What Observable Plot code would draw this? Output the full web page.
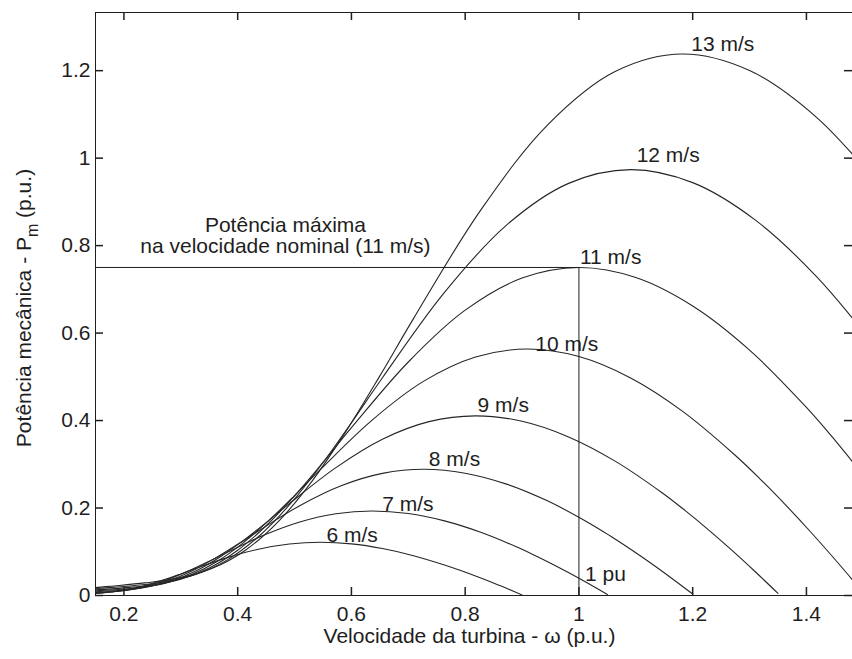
<!DOCTYPE html>
<html>
<head>
<meta charset="utf-8">
<script src="https://cdn.jsdelivr.net/npm/d3@7"></script>
<script src="https://cdn.jsdelivr.net/npm/@observablehq/plot@0.6"></script>
<style>
  html, body { margin: 0; padding: 0; background: #fff; overflow: hidden; }
  #chart svg { display: block; }
</style>
</head>
<body>
<div id="chart"></div>
<script>
// ---- Data: [omega (p.u.), power (p.u.)] ----
const speeds = [6, 7, 8, 9, 10, 11, 12, 13];
const curve6 = [[0.150,0.0048],[0.1636,0.0061],[0.1909,0.0102],[0.2182,0.0168],[0.2455,0.0259],[0.2727,0.0370],[0.300,0.0494],[0.3273,0.0622],[0.3818,0.0866],[0.4364,0.1059],[0.4909,0.1178],[0.5455,0.1217],[0.600,0.1180],[0.6545,0.1074],[0.7091,0.0911],[0.7636,0.0698],[0.7909,0.0576],[0.8182,0.0446],[0.8455,0.0309],[0.8727,0.0164],[0.900,0.0014]];
const curve7 = [[0.150,0.0056],[0.1591,0.0062],[0.1909,0.0096],[0.2227,0.0162],[0.2545,0.0267],[0.2864,0.0411],[0.3182,0.0588],[0.350,0.0784],[0.3818,0.0988],[0.4455,0.1376],[0.5091,0.1681],[0.5727,0.1870],[0.6364,0.1933],[0.700,0.1874],[0.7636,0.1706],[0.8273,0.1446],[0.8909,0.1108],[0.9227,0.0915],[0.9545,0.0709],[0.9864,0.0490],[1.0182,0.0261],[1.050,0.0022]];
const curve8 = [[0.150,0.0070],[0.1818,0.0093],[0.2182,0.0144],[0.2545,0.0241],[0.2909,0.0398],[0.3273,0.0614],[0.3636,0.0877],[0.400,0.1170],[0.4364,0.1475],[0.5091,0.2054],[0.5818,0.2509],[0.6545,0.2792],[0.7273,0.2885],[0.800,0.2797],[0.8727,0.2547],[0.9455,0.2158],[1.0182,0.1654],[1.0545,0.1366],[1.0909,0.1058],[1.1273,0.0732],[1.1636,0.0389],[1.200,0.0033]];
const curve9 = [[0.150,0.0087],[0.1636,0.0096],[0.2045,0.0132],[0.2455,0.0205],[0.2864,0.0344],[0.3273,0.0567],[0.3682,0.0874],[0.4091,0.1249],[0.450,0.1667],[0.4909,0.2101],[0.5727,0.2924],[0.6545,0.3573],[0.7364,0.3975],[0.8182,0.4108],[0.900,0.3983],[0.9818,0.3626],[1.0636,0.3073],[1.1455,0.2355],[1.1864,0.1945],[1.2273,0.1507],[1.2682,0.1042],[1.3091,0.0554],[1.350,0.0047]];
const curve10 = [[0.150,0.0107],[0.1818,0.0131],[0.2273,0.0181],[0.2727,0.0281],[0.3182,0.0472],[0.3636,0.0778],[0.4091,0.1199],[0.4545,0.1713],[0.500,0.2286],[0.5455,0.2882],[0.6364,0.4011],[0.7273,0.4901],[0.8182,0.5453],[0.9091,0.5635],[1.000,0.5463],[1.0909,0.4974],[1.1818,0.4215],[1.2727,0.3230],[1.3182,0.2669],[1.3636,0.2067],[1.4091,0.1429],[1.4545,0.0760],[1.500,0.0065]];
const curve11 = [[0.150,0.0129],[0.200,0.0175],[0.250,0.0241],[0.300,0.0374],[0.350,0.0628],[0.400,0.1035],[0.450,0.1595],[0.500,0.2280],[0.550,0.3043],[0.600,0.3836],[0.700,0.5339],[0.800,0.6524],[0.900,0.7258],[1.000,0.7500],[1.100,0.7271],[1.200,0.6620],[1.300,0.5611],[1.400,0.4300],[1.450,0.3552],[1.500,0.2751]];
const curve12 = [[0.150,0.0154],[0.1636,0.0168],[0.2182,0.0227],[0.2727,0.0313],[0.3273,0.0485],[0.3818,0.0815],[0.4364,0.1344],[0.4909,0.2071],[0.5455,0.2960],[0.600,0.3950],[0.6545,0.4980],[0.7636,0.6931],[0.8727,0.8469],[0.9818,0.9423],[1.0909,0.9737],[1.200,0.9440],[1.3091,0.8595],[1.4182,0.7284],[1.5273,0.5582]];
const curve13 = [[0.150,0.0180],[0.1773,0.0213],[0.2364,0.0288],[0.2955,0.0397],[0.3545,0.0617],[0.4136,0.1036],[0.4727,0.1708],[0.5318,0.2633],[0.5909,0.3763],[0.650,0.5022],[0.7091,0.6331],[0.8273,0.8812],[0.9455,1.0768],[1.0636,1.1980],[1.1818,1.2380],[1.300,1.2002],[1.4182,1.0928],[1.5364,0.9261]];
const curves = [curve6, curve7, curve8, curve9, curve10, curve11, curve12, curve13];

const xTicks = [0.2, 0.4, 0.6, 0.8, 1, 1.2, 1.4];
const yTicks = [0, 0.2, 0.4, 0.6, 0.8, 1, 1.2];
const xDomain = [0.15, 1.481];
const yDomain = [0, 1.333];

const nominalOmega = 1;      // 1 pu
const nominalPower = 0.75;   // max power at 11 m/s
const annotationOmega = 0.484;
const annotationLines = ["Potência máxima", "na velocidade nominal (11 m/s)"];
const puLabel = "1 pu";
const xLabel = "Velocidade da turbina - ω (p.u.)";
const yLabelMain = "Potência mecânica - P";
const yLabelSub = "m";
const yLabelTail = " (p.u.)";

// ---- Tables built from the arrays ----
const rows = speeds.flatMap((v, i) => curves[i].map(([omega, power]) => ({speed: v, omega, power})));
const peaks = speeds.map((v, i) => {
  const p = d3.greatest(curves[i], d => d[1]);
  return {speed: v, omega: p[0], power: p[1], label: `${v} m/s`};
});

// label offsets (pixels) relative to each curve's peak
const labelDx = [6, 10, 5, 2, 8, 1, 6, 9];
const labelDy = [-7, -6.5, -10, -11, -5, -10.5, -14.5, -9.5];

const ink = "#1e1e1e";
const font = "'Liberation Sans', Arial, Helvetica, sans-serif";
const fs = 21;

// layout
const W = 852, H = 659;
const mL = 95, mR = 0, mT = 12, mB = 64;
const frameW = W - mL - mR, frameH = H - mT - mB;
const TL = 8; // inward tick length (px)

const plot = Plot.plot({
  width: W,
  height: H,
  marginLeft: mL,
  marginRight: mR,
  marginTop: mT,
  marginBottom: mB,
  style: {fontFamily: font, fontSize: fs + "px", color: ink, background: "#fff", overflow: "visible"},
  x: {domain: xDomain},
  y: {domain: yDomain},
  marks: [
    // frame (left, top, bottom)
    Plot.ruleX([xDomain[0]], {stroke: ink, strokeWidth: 1}),
    Plot.ruleY([yDomain[1]], {stroke: ink, strokeWidth: 1}),
    Plot.ruleY([yDomain[0]], {stroke: ink, strokeWidth: 1}),
    // power curves
    Plot.line(rows, {x: "omega", y: "power", z: "speed", curve: "catmull-rom", stroke: "#262626", strokeWidth: 1.1, clip: true}),
    // nominal point guides
    Plot.ruleY([nominalPower], {x1: xDomain[0], x2: nominalOmega, stroke: ink, strokeWidth: 1}),
    Plot.ruleX([nominalOmega], {y1: 0, y2: nominalPower, stroke: ink, strokeWidth: 1}),
    // tick labels
    Plot.axisX(xTicks, {anchor: "bottom", tickSize: 0, tickPadding: 11, tickFormat: d => String(d), label: null, fontSize: fs, fill: ink}),
    Plot.axisY(yTicks, {anchor: "left", tickSize: 0, tickPadding: 5, tickFormat: d => String(d), label: null, fontSize: fs, fill: ink}),
    // curve labels
    ...peaks.map((p, i) => Plot.text([p], {
      x: "omega", y: "power", text: "label", textAnchor: "start", lineAnchor: "middle",
      dx: labelDx[i], dy: labelDy[i], fontSize: fs, fill: ink
    })),
    // annotation
    Plot.text([annotationLines[0]], {x: annotationOmega, y: nominalPower, text: d => d, dy: -42, lineAnchor: "middle", fontSize: fs, fill: ink}),
    Plot.text([annotationLines[1]], {x: annotationOmega, y: nominalPower, text: d => d, dy: -21, lineAnchor: "middle", fontSize: fs, fill: ink}),
    Plot.text([puLabel], {x: nominalOmega, y: 0, text: d => d, textAnchor: "start", lineAnchor: "middle", dx: 6, dy: -21, fontSize: fs, fill: ink}),
    // axis titles
    Plot.text([xLabel], {frameAnchor: "bottom", text: d => d, textAnchor: "middle", dx: -4.5, dy: 41, lineAnchor: "middle", fontSize: fs, fill: ink}),
    Plot.text([yLabelMain + yLabelSub + yLabelTail], {frameAnchor: "left", text: d => d, textAnchor: "middle", rotate: -90, dx: -71, dy: 4, lineAnchor: "middle", fontSize: fs, fill: ink}),
    // inward ticks on all four sides (insets trim full-span rules down to short ticks)
    Plot.ruleX(xTicks, {x: d => d, y1: yDomain[1], y2: yDomain[0], insetTop: frameH - TL, stroke: ink, strokeWidth: 1.5}),
    Plot.ruleX(xTicks, {x: d => d, y1: yDomain[1], y2: yDomain[0], insetBottom: frameH - TL, stroke: ink, strokeWidth: 1.5}),
    Plot.ruleY(yTicks, {y: d => d, x1: xDomain[0], x2: xDomain[1], insetRight: frameW - TL, stroke: ink, strokeWidth: 1.5}),
    Plot.ruleY(yTicks, {y: d => d, x1: xDomain[0], x2: xDomain[1], insetLeft: frameW - TL, stroke: ink, strokeWidth: 1.5})
  ]
});

// give the y title its subscript "m"
plot.querySelectorAll("text").forEach(t => {
  if (t.textContent === yLabelMain + yLabelSub + yLabelTail) {
    t.textContent = "";
    const ns = "http://www.w3.org/2000/svg";
    const a = document.createElementNS(ns, "tspan"); a.textContent = yLabelMain;
    const b = document.createElementNS(ns, "tspan"); b.textContent = yLabelSub;
    b.setAttribute("dy", "7"); b.setAttribute("font-size", "16");
    const c = document.createElementNS(ns, "tspan"); c.textContent = yLabelTail;
    c.setAttribute("dy", "-7");
    t.append(a, b, c);
  }
});

document.getElementById("chart").appendChild(plot);
</script>
</body>
</html>
